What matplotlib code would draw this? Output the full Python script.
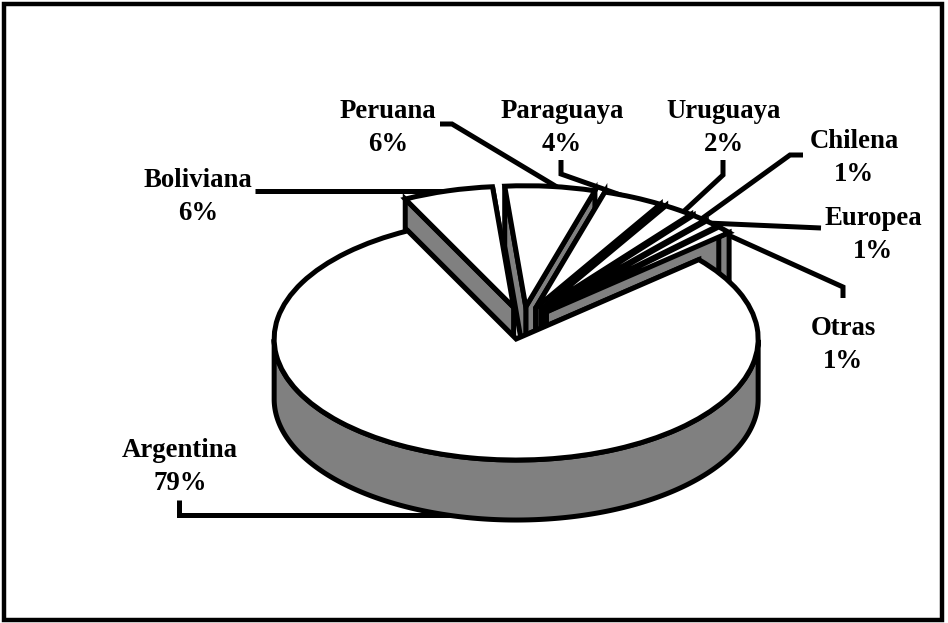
import numpy as np
import matplotlib
matplotlib.use("Agg")
import matplotlib.pyplot as plt
from matplotlib.patches import Rectangle

plt.rcParams['font.family'] = ['Liberation Serif', 'DejaVu Serif']

categories = ["Argentina", "Boliviana", "Peruana", "Paraguaya", "Uruguaya", "Chilena", "Europea", "Otras"]
values = [79, 6, 6, 4, 2, 1, 1, 1]

W, H = 948, 623
START = 41.0
EXPLODE = 0.135
RX, RY = 242.0, 121.0
CX, CY = 522.5, 323.0
DEPTH = 60.0 / RY
GRAY = "#808080"
LW = 3.6

fig = plt.figure(figsize=(W / 100, H / 100), dpi=100, facecolor="white")

# pixel-space layer: frame, labels, leader lines
bg = fig.add_axes([0, 0, 1, 1], zorder=0)
bg.set_xlim(0, W)
bg.set_ylim(H, 0)
bg.axis("off")
bg.add_patch(Rectangle((4.5, 3.5), 938, 616, fill=False, ec="black", lw=3.2))

label_pos = {
    "Argentina": (180, 467), "Boliviana": (198, 197), "Peruana": (388, 128),
    "Paraguaya": (562, 128), "Uruguaya": (724, 128), "Chilena": (854, 158),
    "Europea": (873, 235), "Otras": (843, 345),
}
for c, v in zip(categories, values):
    x, y = label_pos[c]
    bg.text(x, y, f"{c}\n{v}%", ha="center", va="center", fontsize=19.3,
            fontweight="bold", linespacing=1.42, color="black")

leaders = [
    [(179, 500), (179, 515), (480, 515)],
    [(255, 191), (460, 191)],
    [(440, 124), (452, 124), (557, 187)],
    [(561, 160), (561, 174), (663, 210)],
    [(723, 160), (723, 175), (682, 213)],
    [(803, 155), (790, 155), (700, 220)],
    [(821, 228), (707, 223)],
    [(843, 298), (843, 287), (717, 230)],
]
for pts in leaders:
    xs, ys = zip(*pts)
    bg.plot(xs, ys, color="black", lw=LW, solid_joinstyle="miter", solid_capstyle="butt")

# pie layer: data unit = one radius, squashed into an ellipse
ax = fig.add_axes([0, 0, 1, 1], zorder=1)
ax.patch.set_visible(False)
wedges, _ = ax.pie(values, startangle=START, counterclock=False,
                   explode=[EXPLODE] * len(values),
                   wedgeprops=dict(facecolor="white", edgecolor="black", linewidth=LW,
                                   joinstyle="miter"))
ax.set_aspect("auto")
ax.set_xlim(-CX / RX, (W - CX) / RX)
ax.set_ylim((CY - H) / RY, CY / RY)
ax.axis("off")

paint_order = [2, 3, 4, 5, 6, 7, 1, 0]
for rank, i in enumerate(paint_order):
    w = wedges[i]
    t1, t2 = w.theta1, w.theta2
    ox, oy = w.center
    base_z = 2 + 2 * rank
    # radial side faces
    for t in (t1, t2):
        px = ox + np.cos(np.radians(t))
        py = oy + np.sin(np.radians(t))
        ax.fill([ox, px, px, ox], [oy, py, py - DEPTH, oy - DEPTH],
                facecolor=GRAY, edgecolor="black", lw=LW, zorder=base_z, joinstyle="miter")
    # outer rim, front-facing part only
    ts = np.radians(np.arange(t1, t2 + 0.25, 0.5))
    ts = ts[np.sin(ts) <= 0]
    if len(ts) > 1:
        xs = ox + np.cos(ts)
        ys = oy + np.sin(ts)
        ax.fill(np.r_[xs, xs[::-1]], np.r_[ys, ys[::-1] - DEPTH],
                facecolor=GRAY, edgecolor="black", lw=LW, zorder=base_z, joinstyle="miter")
    w.set_zorder(base_z + 1)

fig.savefig("out.png", dpi=100, facecolor="white")
